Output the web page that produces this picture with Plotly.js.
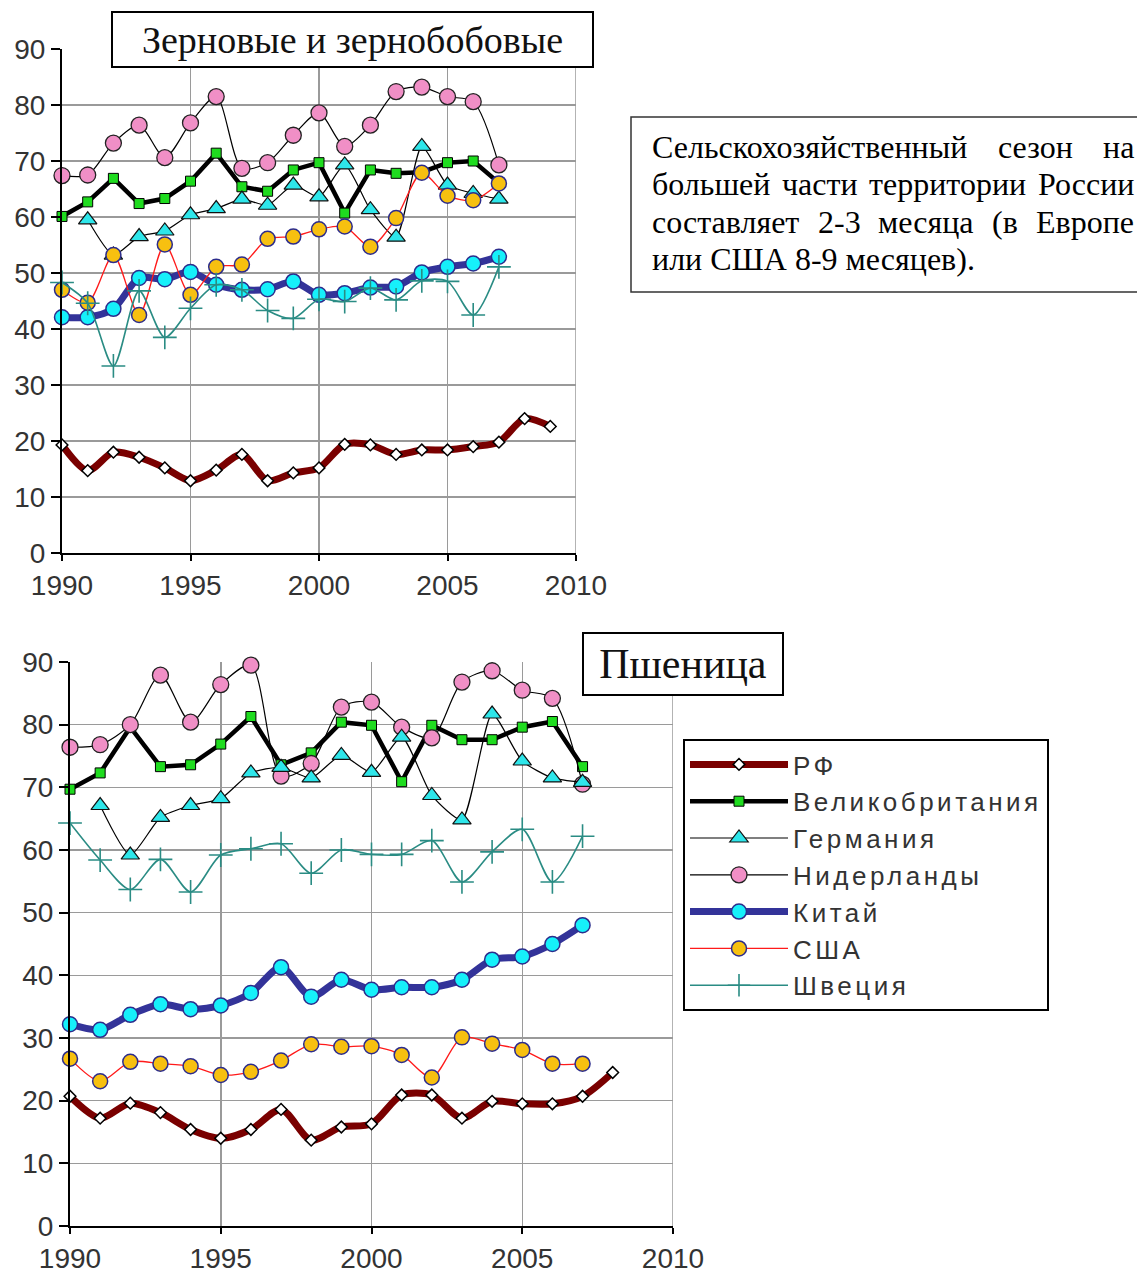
<!DOCTYPE html>
<html><head><meta charset="utf-8">
<script src="https://cdn.plot.ly/plotly-3.0.1.min.js"></script>
<style>html,body{margin:0;padding:0;background:#fff}#chart{width:1137px;height:1275px}
.legendtext{letter-spacing:3.5px}</style>
</head><body><div id="chart"></div>
<script>
// ---------- DATA ----------
const yearsA = [1990,1991,1992,1993,1994,1995,1996,1997,1998,1999,2000,2001,2002,2003,2004,2005,2006,2007];
const yearsRF1 = [1990,1991,1992,1993,1994,1995,1996,1997,1998,1999,2000,2001,2002,2003,2004,2005,2006,2007,2008,2009];
const yearsRF2 = [1990,1991,1992,1993,1994,1995,1996,1997,1998,1999,2000,2001,2002,2003,2004,2005,2006,2007,2008];

const seriesNames = ["РФ","Великобритания","Германия","Нидерланды","Китай","США","Швеция"];

// Зерновые и зернобобовые
const grainRF  = [19.3,14.7,18.0,17.1,15.2,12.9,14.8,17.6,12.9,14.3,15.2,19.4,19.3,17.6,18.4,18.4,19.0,19.8,24.0,22.6];
const grainUK  = [60.1,62.7,66.9,62.4,63.3,66.4,71.4,65.4,64.6,68.4,69.7,60.7,68.4,67.8,68.0,69.7,70.0,66.1];
const grainDE  = [null,59.5,53.2,56.5,57.5,60.4,61.5,63.2,62.1,65.7,63.6,69.3,61.3,56.4,72.6,65.7,64.2,63.2];
const grainNL  = [67.4,67.5,73.2,76.4,70.6,76.8,81.5,68.7,69.7,74.6,78.6,72.6,76.4,82.4,83.2,81.5,80.6,69.3];
const grainCN  = [42.1,42.1,43.6,49.1,48.9,50.2,47.9,47.0,47.1,48.5,46.1,46.4,47.4,47.6,50.1,51.1,51.7,52.9];
const grainUS  = [47.0,44.7,53.2,42.5,55.1,46.1,51.1,51.5,56.1,56.5,57.8,58.3,54.7,59.8,67.9,63.8,63.0,66.0];
const grainSE  = [48.3,44.6,33.4,46.8,38.5,43.7,47.9,47.0,43.3,41.9,45.3,44.9,47.3,45.2,48.6,48.5,42.5,51.1];

// Пшеница
const wheatRF  = [20.7,17.2,19.6,18.1,15.4,14.0,15.4,18.6,13.7,15.8,16.3,20.9,20.9,17.2,19.9,19.5,19.5,20.7,24.5];
const wheatUK  = [69.7,72.3,79.6,73.3,73.6,76.9,81.3,73.6,75.5,80.4,79.9,70.9,79.9,77.6,77.6,79.6,80.5,73.3];
const wheatDE  = [null,67.1,59.2,65.2,67.1,68.2,72.3,73.2,71.5,75.1,72.4,78.0,68.7,64.8,81.7,74.2,71.5,70.8];
const wheatNL  = [76.4,76.8,80.0,87.9,80.4,86.4,89.5,71.8,73.8,82.8,83.6,79.6,77.9,86.8,88.6,85.5,84.2,70.5];
const wheatCN  = [32.2,31.3,33.7,35.4,34.6,35.2,37.2,41.3,36.6,39.3,37.7,38.1,38.1,39.3,42.5,43.0,45.0,48.0];
const wheatUS  = [26.7,23.1,26.2,25.9,25.5,24.1,24.6,26.4,29.0,28.6,28.7,27.3,23.7,30.1,29.1,28.1,25.9,25.9];
const wheatSE  = [64.3,58.4,53.7,58.5,53.3,59.2,60.2,61.0,56.3,60.0,59.3,59.3,61.5,54.9,59.7,63.3,54.9,62.2];

const xTickVals = [1990,1995,2000,2005,2010];
const yTickVals = [0,10,20,30,40,50,60,70,80,90];

const titleTop = "Зерновые и зернобобовые";
const titleBottom = "Пшеница";
const noteLines = [
  ["Сельскохозяйственный","сезон","на"],
  ["большей","части","территории","России"],
  ["составляет","2-3","месяца","(в","Европе"],
  ["или США 8-9 месяцев)."]
];

// ---------- STYLES ----------
const W = 1137, H = 1275;
const px = x => x / W, py = y => 1 - y / H;

const styles = [
  {line:{color:"#7a0000",width:7,shape:"spline",smoothing:0.8}, marker:{symbol:"diamond",size:9,color:"#ffffff",line:{color:"#000",width:1.5}}},
  {line:{color:"#000000",width:4.5}, marker:{symbol:"square",size:10,color:"#1fdc1f",line:{color:"#000",width:1}}},
  {line:{color:"#000000",width:1.2,shape:"spline",smoothing:0.6}, marker:{symbol:"triangle-up",size:16,color:"#2ee6ea",line:{color:"#111",width:1.2}}},
  {line:{color:"#000000",width:1.2,shape:"spline",smoothing:0.8}, marker:{symbol:"circle",size:16,color:"#f08fc6",line:{color:"#222",width:1.3}}},
  {line:{color:"#333399",width:7,shape:"spline",smoothing:0.8}, marker:{symbol:"circle",size:15,color:"#16f0fa",line:{color:"#2c2c8c",width:1.5}}},
  {line:{color:"#ff1a1a",width:1.3,shape:"spline",smoothing:0.8}, marker:{symbol:"circle",size:15,color:"#f7c010",line:{color:"#2c2c8c",width:1.5}}},
  {line:{color:"#2a8c84",width:1.6,shape:"spline",smoothing:0.8}, marker:{symbol:"cross-thin-open",size:17,color:"#2a8c84",line:{color:"#2a8c84",width:1.6}}}
];
const drawOrder = [0,4,1,3,2,5,6];

function makeTraces(xsets, ysets, xa, ya, showLeg){
  return drawOrder.map(i => ({
    type:"scatter", mode:"lines+markers", name:seriesNames[i],
    x:xsets[i], y:ysets[i], xaxis:xa, yaxis:ya,
    line:styles[i].line, marker:styles[i].marker,
    cliponaxis:false, connectgaps:false,
    showlegend:showLeg, legendrank:i+1, hoverinfo:"x+y+name"
  }));
}

const traces = [
  ...makeTraces([yearsRF1,yearsA,yearsA,yearsA,yearsA,yearsA,yearsA],
                [grainRF,grainUK,grainDE,grainNL,grainCN,grainUS,grainSE],"x","y",false),
  ...makeTraces([yearsRF2,yearsA,yearsA,yearsA,yearsA,yearsA,yearsA],
                [wheatRF,wheatUK,wheatDE,wheatNL,wheatCN,wheatUS,wheatSE],"x2","y2",true)
];

const tickFont = {family:"Liberation Sans, Arial, sans-serif", size:28, color:"#333"};
function xAx(dom, anchor){ return {domain:dom, anchor:anchor, range:[1990,2010], tickvals:xTickVals,
  showgrid:true, gridcolor:"#9a9a9a", gridwidth:1.5, showline:true, linecolor:"#000", linewidth:2,
  ticks:"outside", ticklen:6, tickwidth:2, tickcolor:"#000", tickfont:tickFont, zeroline:false, fixedrange:true}; }
function yAx(dom, anchor){ return {domain:dom, anchor:anchor, range:[0,90], tickvals:yTickVals,
  showgrid:true, gridcolor:"#9a9a9a", gridwidth:1.5, showline:true, linecolor:"#000", linewidth:2,
  ticks:"outside", ticklen:9, tickwidth:2, tickcolor:"#000", tickfont:tickFont, zeroline:false, fixedrange:true}; }

const annotations = [
  {xref:"paper",yref:"paper",x:px(352.5),y:py(39.5),xanchor:"center",yanchor:"middle",showarrow:false,
   text:titleTop,font:{family:"Liberation Serif, Times New Roman, serif",size:38,color:"#111"},
   bgcolor:"#fff",bordercolor:"#000",borderwidth:2,borderpad:1,width:477,height:51},
  {xref:"paper",yref:"paper",x:px(683),y:py(664),xanchor:"center",yanchor:"middle",showarrow:false,
   text:titleBottom,font:{family:"Liberation Serif, Times New Roman, serif",size:42,color:"#111"},
   bgcolor:"#fff",bordercolor:"#000",borderwidth:2,borderpad:1,width:196,height:58}
];

// justified note text: words spread evenly between left and right margins
const noteFontSize = 32, noteFamily = "Liberation Serif";
const noteFont = {family:"Liberation Serif, Times New Roman, serif", size:noteFontSize, color:"#000"};
const noteLeft = 651, noteRight = 1133;
const lineY = [147,184,222,259];
const ctx = document.createElement("canvas").getContext("2d");
ctx.font = noteFontSize + "px '" + noteFamily + "'";
noteLines.forEach((words,li)=>{
  if (li === noteLines.length-1 || words.length === 1) {
    annotations.push({xref:"paper",yref:"paper",x:px(noteLeft),y:py(lineY[li]),xanchor:"left",yanchor:"middle",
      showarrow:false,text:words.join(" "),font:noteFont,borderpad:0});
    return;
  }
  const ws = words.map(w => ctx.measureText(w).width);
  const total = ws.reduce((a,b)=>a+b,0);
  const gap = (noteRight - noteLeft - total) / (words.length - 1);
  let cx = noteLeft;
  words.forEach((w,wi)=>{
    annotations.push({xref:"paper",yref:"paper",x:px(cx),y:py(lineY[li]),xanchor:"left",yanchor:"middle",
      showarrow:false,text:w,font:noteFont,borderpad:0});
    cx += ws[wi] + gap;
  });
});

const gridEdge = {type:"line",x0:2010,x1:2010,y0:0,y1:1,line:{color:"#9a9a9a",width:1.5},layer:"below"};

const layout = {
  width:W, height:H, margin:{l:0,r:0,t:0,b:0}, paper_bgcolor:"#fff", plot_bgcolor:"#fff",
  showlegend:true,
  xaxis: xAx([px(62),px(576)],"y"),
  yaxis: yAx([py(553),py(49)],"x"),
  xaxis2: xAx([px(70),px(673)],"y2"),
  yaxis2: yAx([py(1226),py(662)],"x2"),
  legend:{x:px(683),y:py(739),xanchor:"left",yanchor:"top",bgcolor:"#fff",bordercolor:"#000",borderwidth:2,
    font:{family:"Liberation Sans, Arial, sans-serif",size:26,color:"#333"},itemwidth:98,tracegroupgap:0,
    traceorder:"normal"},
  annotations:annotations,
  shapes:[
    Object.assign({xref:"x",yref:"y domain"},gridEdge),
    Object.assign({xref:"x2",yref:"y2 domain"},gridEdge),
    {type:"rect",xref:"paper",yref:"paper",x0:px(631),x1:px(1142),y0:py(117),y1:py(292),
     line:{color:"#333",width:1.5},fillcolor:"rgba(0,0,0,0)"}]
};

Plotly.newPlot("chart", traces, layout, {staticPlot:true, displayModeBar:false});
</script></body></html>
